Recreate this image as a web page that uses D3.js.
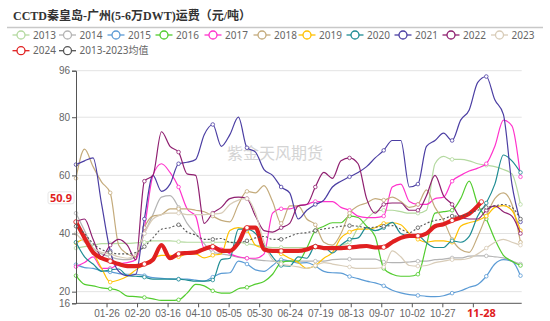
<!DOCTYPE html>
<html>
<head>
<meta charset="utf-8">
<script src="https://cdn.jsdelivr.net/npm/d3@7"></script>
<style>
  body { margin: 0; background: #fff; }
  svg { display: block; }
</style>
</head>
<body>
<div id="my_dataviz"></div>
<script>
// series names, in legend order
var seriesNames = ["2013","2014","2015","2016","2017","2018","2019","2020","2021","2022","2023","2024","2013-2023均值"]

// one value per week, day index 0, 7, 14 ... 364 of the year
var weekDays = [0,7,14,21,28,35,42,49,56,63,70,77,84,91,98,105,112,119,126,133,140,147,154,161,168,175,182,189,196,203,210,217,224,231,238,245,252,259,266,273,280,287,294,301,308,315,322,329,336,343,350,357,364]

var v2013 = [35,35.5,36,36.5,36.5,36.6,36.6,36.8,37,37.5,37.5,37.5,37.2,37,37,37,37,37,37,37,36.5,36,35.5,35.2,35.2,35.2,35.2,35.2,35.2,35.2,35.5,36,37,42,45,47.5,48,48,47.5,47,47,48,64,66.5,65.5,65.5,65,64,63.5,63,62,60.5,50]
var v2014 = [47,41,35,33,32,31.2,31,32,40,46.5,52.5,53,49,43.5,40,36.5,33.5,33,32.5,31.8,31.5,31,30.7,30.5,30.5,30.5,30.5,30.5,30.5,30.5,31,31.2,31.2,31.2,31.2,31.2,30.2,30,30,30.2,30.5,30.5,31,31.2,31.6,31.6,32.2,32.3,32.3,32,31.6,30.5,29.5]
var v2015 = [29.3,28.3,28,27.2,26.8,26.2,26,26,25.5,24.8,24.6,24.4,24.3,24.3,24,23.6,25,26.3,26.5,30.5,29.5,27.5,27,29,31,30.5,29.8,30,28.8,27,26.5,26.4,25.2,24.5,23.6,23,22,20.5,19.6,19,18.7,18.4,18.3,18.6,19.5,20.3,21.5,22.5,25.3,29.5,31,30.5,25.5]
var v2016 = [25.5,22.5,22,21.3,21,20.3,18.5,18.3,18,17.5,17,17,17.2,19.5,22.5,22,20.3,19.5,19.5,21,21.5,22.6,23.5,26,30,30.5,30.5,35,41,42.5,43.7,43.7,46,45.5,42.5,39,28,26,25.3,25.3,26,36,47,47.5,48,52,58,50,45,38,32.5,30.5,29]
var v2017 = [28.6,30,32,28,28,29.5,30,31,42,60,64,61,56,48.5,46,35,35,35,33,32,31.5,31.5,33,47,48.5,48.5,49.5,50,51,51,51,49,48,46,45.5,45.5,46,56,57,51,50,50,52,52.5,58,60,61.5,62.5,64,70,79,77,59.5]
var v2018 = [59,69,63,57.7,54,36,33,32,42,46,46.5,48.5,48.5,48.5,48,47.5,46,44.5,44,50,54.5,54,56.5,51,43.5,49.5,49.5,45,43,37,36,40,47,49.5,50.5,52,51.5,52.5,51,49,50,55,49,44.5,38,34.5,33.5,39,46,52,54,50,37]
var v2019 = [36.8,38,33.5,28,23.3,24,25.3,27.5,29.5,31.5,32.5,32.5,32,33,33,31.6,32.5,33,41,42,41,36,35,34,33,31.5,30,28,29,31.5,33.5,38.5,40.5,41.5,41.5,42,43.5,43.7,43,40,38,37,37.5,37.5,37,42.5,43.7,44.5,46,49,49.6,48,41]
var v2020 = [37,32,29.5,27,27.5,27.8,25.5,25.3,25,24.3,24.3,24.3,24.3,24,23.6,23.6,24,31,31.5,41.5,41.5,40,36,32,29,28.8,32,31.5,35.7,35.5,33.3,36,38,38.5,42,41,42,43.8,40,39.2,39.2,36.8,35.2,35.2,37.5,37,39,46,50.5,57,67,65,61]
var v2021 = [63.7,65,66,50,34,27,25.5,26,45,60,54.5,57,64,64.5,65.5,74,77.5,70,74,80,69.5,68,62,60,56,54,45,48,50,51.5,56,58,59.5,61,63,66,68.6,72,72,56,57,70,72,74.5,72,79,82.5,92,94,86,81,57,44]
var v2022 = [44,45,38,32,36,38,36,31,58,60,75,70,68,60.5,60,43.5,47,49,52,52.5,52,46,41,40.5,42,43.5,49.5,50,56,61,59,65,66,64,52,47,50,50.5,50.5,48,48,53,60,53,50,45.5,45,45,48,49.5,47.5,46,40]
var v2023 = [40,37,35,33.5,33,32,31.5,33,40,45,46.5,47,47,46.5,46.5,46.5,46.7,47,50,51.5,52,47,37,31,29.5,29,28.5,28,29,30,29.5,29,28.5,28,28,28,28.5,34,32,29,28.8,29,30,30.5,31,31,31.5,33,35,37,38,37,36]
var v2024 = [44,38.5,33.5,31.5,30.5,29.5,28.8,28.8,29.5,31,36,31.5,33,33.3,33.5,34.7,35.5,34,34,36.8,42,42,34.5,34,34,34,34,34.5,35.5,35,35,35,35.2,35.5,35.7,35.2,35.3,37,38.5,39.2,39.2,40,42.5,43.2,44.5,45.5,46.8,49.5]
var vAvg  = [42.5,40,36.5,34.5,33.5,33,33,33.5,35.5,38.5,41.5,42,43,40.5,39.5,38,38,38.3,37,36.8,37.5,38.5,39,38,38,39,40,40.3,41,41.6,42,42.5,42.7,42.5,42,42.2,42.5,42.7,41.5,40.3,42,43.5,44.5,45,46,46,47,48,49,49.5,50,49,45]

// latest 2024 reading
var latestDay = 332, latestLabel = "11-28", latestValue = 50.9

// x tick labels, every 25 days from 01-26 (the last one is hidden by the latest-date label)
var tickDays = [25,50,75,100,125,150,175,200,225,250,275,300,325]
var tickLabels = ["01-26","02-20","03-16","04-10","05-05","05-30","06-24","07-19","08-13","09-07","10-02","10-27",""]
var yTicks = [16,20,40,60,80,96]

var colors = ["#b4d9a0","#b4b4b4","#5b9bd5","#52cc2e","#ff33cc","#c4ab7c","#ffc000","#1e8c93","#4b3ea3","#8f1f70","#d8ccb8","#e02020","#555555"]
var allValues = [v2013,v2014,v2015,v2016,v2017,v2018,v2019,v2020,v2021,v2022,v2023,v2024,vAvg]

var W = 550, H = 321
var plotL = 76, plotR = 521.7, plotT = 70.7, plotB = 303.3

var svg = d3.select("#my_dataviz")
  .append("svg")
    .attr("width", W)
    .attr("height", H)
    .style("font-family", "'Noto Sans', 'Noto Sans CJK SC', sans-serif")

// title
svg.append("text")
    .attr("x", 13)
    .attr("y", 19.5)
    .attr("font-family", "'Liberation Serif', 'Noto Sans CJK SC', serif")
    .attr("font-weight", "bold")
    .attr("font-size", 12)
    .attr("fill", "#333")
    .text("CCTD秦皇岛-广州(5-6万DWT)运费（元/吨）")
svg.append("line")
    .attr("x1", 7).attr("x2", 543)
    .attr("y1", 27.5).attr("y2", 27.5)
    .attr("stroke", "#c8c8c8")
    .attr("stroke-width", 1.5)

// legend
var legendPos = [
  [21,35],[67.5,35],[116,35],[164,35],[213,35],[262,35],[307,35],[355,35],[403,35],[451,35],[499.5,35],
  [21,50.7],[67.5,50.7]
]
var legend = svg.append("g")
seriesNames.forEach(function(name, i) {
  var g = legend.append("g").attr("transform", "translate(" + legendPos[i][0] + "," + legendPos[i][1] + ")")
  g.append("line").attr("x1", -8.5).attr("x2", 8.5).attr("stroke", colors[i]).attr("stroke-width", 1.3)
  g.append("circle").attr("r", 4).attr("fill", "#fff").attr("stroke", colors[i]).attr("stroke-width", 1.3)
  g.append("text")
      .attr("x", 12)
      .attr("dy", "0.35em")
      .attr("font-size", 10)
      .attr("fill", "#666")
      .text(name)
})

// scales
var x = d3.scaleLinear().domain([0, 365]).range([plotL, plotR])
var y = d3.scaleLinear().domain([16, 96]).range([plotB, plotT])

// grid
svg.append("g")
  .selectAll("line")
  .data(yTicks.filter(function(d) { return d > 16 }))
  .enter()
  .append("line")
    .attr("x1", plotL).attr("x2", plotR)
    .attr("y1", function(d) { return y(d) }).attr("y2", function(d) { return y(d) })
    .attr("stroke", "#e3e3e3")

// watermark
svg.append("text")
    .attr("x", 227)
    .attr("y", 159)
    .attr("font-family", "'Noto Sans CJK SC', sans-serif")
    .attr("font-size", 16)
    .attr("fill", "#d4d4d4")
    .text("紫金天风期货")

// lines
var line = d3.line()
  .defined(function(d) { return d[1] != null })
  .x(function(d) { return x(d[0]) })
  .y(function(d) { return y(d[1]) })
  .curve(d3.curveMonotoneX)

var plot = svg.append("g")
allValues.forEach(function(vals, i) {
  var pts = vals.map(function(v, k) { return [weekDays[k], v] })
  if (i == 11) pts.push([latestDay, latestValue])
  var isNow = i == 11, isAvg = i == 12
  plot.append("path")
      .datum(pts)
      .attr("fill", "none")
      .attr("stroke", colors[i])
      .attr("stroke-width", isNow ? 4.2 : (isAvg ? 1.1 : 1.2))
      .attr("stroke-dasharray", isAvg ? "2,2" : null)
      .attr("stroke-linejoin", "round")
      .attr("d", line)
  // small hollow markers every fourth week
  plot.append("g")
    .selectAll("circle")
    .data(pts.filter(function(d, k) { return k % 4 == 0 }))
    .enter()
    .append("circle")
      .attr("cx", function(d) { return x(d[0]) })
      .attr("cy", function(d) { return y(d[1]) })
      .attr("r", isNow ? 2.2 : 1.8)
      .attr("fill", "#fff")
      .attr("stroke", colors[i])
      .attr("stroke-width", 0.8)
})

// Y axis
var yAxis = svg.append("g")
    .attr("transform", "translate(" + plotL + ",0)")
    .call(d3.axisLeft(y).tickValues(yTicks).tickSize(4).tickPadding(2).tickFormat(d3.format("d")))
yAxis.selectAll("text").attr("fill", "#666").attr("font-size", 10)
yAxis.selectAll("line").attr("stroke", "#555")
yAxis.select(".domain").attr("stroke", "#555")

// X axis
var xAxis = svg.append("g")
    .attr("transform", "translate(0," + plotB + ")")
    .call(d3.axisBottom(x).tickValues(tickDays).tickSize(4).tickPadding(3)
      .tickFormat(function(d, i) { return tickLabels[i] }))
xAxis.selectAll("text").attr("fill", "#666").attr("font-size", 10)
xAxis.selectAll("line").attr("stroke", "#555")
xAxis.select(".domain").attr("stroke", "#555").attr("d", "M" + plotL + ",0H" + plotR)

// latest date and value labels
svg.append("text")
    .attr("x", x(latestDay))
    .attr("y", plotB + 14)
    .attr("text-anchor", "middle")
    .attr("font-size", 11)
    .attr("font-weight", "bold")
    .attr("fill", "#e02020")
    .text(latestLabel)

var ly = y(latestValue) - 4
svg.append("rect")
    .attr("x", 48).attr("y", ly - 6)
    .attr("width", 26).attr("height", 12)
    .attr("rx", 2)
    .attr("fill", "#fff")
    .attr("stroke", "#e6e6e6")
svg.append("text")
    .attr("x", 61).attr("y", ly)
    .attr("dy", "0.35em")
    .attr("text-anchor", "middle")
    .attr("font-size", 11)
    .attr("font-weight", "bold")
    .attr("fill", "#e02020")
    .text(d3.format(".1f")(latestValue))
</script>
</body>
</html>
